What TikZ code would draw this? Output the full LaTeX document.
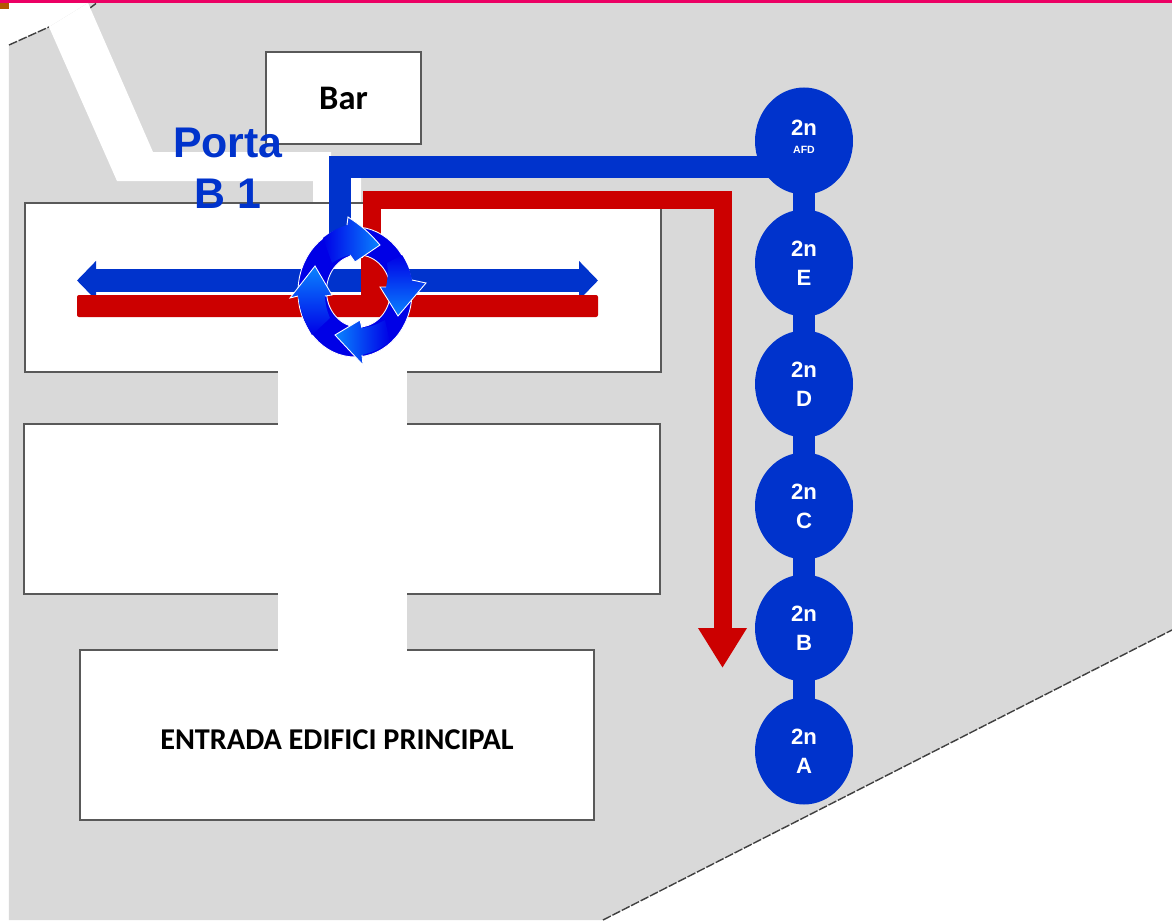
\documentclass[tikz,border=0pt]{standalone}
\usepackage{fontspec}
\usepackage{xcolor}
\usetikzlibrary{arrows.meta}
\usetikzlibrary{shapes.geometric}
\setmainfont{Liberation Sans}
\newfontfamily\roomfont{Carlito}
\definecolor{planblue}{HTML}{0033CC}
\definecolor{planred}{HTML}{CC0000}
\definecolor{plangray}{HTML}{D9D9D9}
\definecolor{planpink}{HTML}{EC0064}
\definecolor{ringblue}{HTML}{0000E6}
\definecolor{ringlight}{HTML}{0A84FF}
\tikzset{
	room/.style={draw=black!65, fill=white, line width=0.35pt, inner sep=0pt, outer sep=0pt, font=\roomfont\bfseries},
	stop/.style={ellipse, fill=planblue, text=white, minimum width=0.98cm, minimum height=1.07cm, inner sep=0pt, align=center, font=\bfseries\fontsize{6.3}{8.2}\selectfont},
	stoplink/.style={draw=planblue, line width=0.22cm, shorten >=0.42cm, shorten <=0.42cm},
	blueline/.style={draw=planblue, line width=0.22cm},
	redline/.style={draw=planred, line width=0.18cm},
	bluearrow/.style={draw=planblue, line width=0.235cm, -{Triangle[length=0.19cm, width=0.38cm]}},
	edgeline/.style={draw=black!75, line width=0.4pt, dash pattern=on 2.5pt off 0.5pt},
	ringhead/.style={draw=white, line width=0.25pt}
}

\begin{document}
\begin{tikzpicture}
	\useasboundingbox (0,0) rectangle (11.72,9.2);

	% ground and top band
	\fill[plangray] (0.09,0) -- (0.09,8.75) -- (0.49,8.93) -- (0.88,9.17) -- (11.72,9.17) -- (11.72,2.90) -- (6.03,0) -- cycle;
	\fill[planpink] (0,9.165) rectangle (11.72,9.2);
	\fill[orange!70!black] (0,9.11) rectangle (0.09,9.165);

	% outer edges
	\draw[edgeline] (0.09,8.75) -- (0.49,8.93);
	\draw[edgeline] (0.90,9.12) -- (0.96,9.165);
	\draw[edgeline] (6.03,0) -- (11.72,2.90);

	% white way in
	\fill[white] (0.49,8.93) -- (0.88,9.17) -- (1.53,7.68) -- (3.31,7.68) -- (3.31,7.42) -- (3.61,7.42) -- (3.61,7.10) -- (3.13,7.10) -- (3.13,7.39) -- (1.17,7.39) -- cycle;

	% rooms
	\node[room, minimum width=1.55cm, minimum height=0.92cm, font=\roomfont\bfseries\fontsize{9.8}{12}\selectfont] (bar) at (3.435,8.22) {Bar};
	\node[room, minimum width=6.36cm, minimum height=1.69cm] (hall) at (3.43,6.325) {};
	\node[room, minimum width=6.36cm, minimum height=1.70cm] (middle) at (3.42,4.11) {};
	\node[room, minimum width=5.14cm, minimum height=1.70cm, font=\roomfont\bfseries\fontsize{8.6}{11}\selectfont] (entrada) at (3.37,1.85) {\raisebox{-0.147cm}[0pt][0pt]{ENTRADA EDIFICI PRINCIPAL}};

	% passages between the rooms
	\fill[white] (2.78,5.50) rectangle (4.07,4.94);
	\fill[white] (2.78,3.28) rectangle (4.07,2.68);

	% stops
	\node[stop] (afd) at (8.04,7.79) {2n\\[-0.03cm]{\fontsize{3}{3}\selectfont\raisebox{0.08cm}{AFD}}};
	\node[stop] (e) at (8.04,6.57) {2n\\E};
	\node[stop] (d) at (8.04,5.36) {2n\\D};
	\node[stop] (c) at (8.04,4.14) {2n\\C};
	\node[stop] (b) at (8.04,2.92) {2n\\B};
	\node[stop] (a) at (8.04,1.69) {2n\\A};
	\draw[stoplink] (afd.center) -- (e.center);
	\draw[stoplink] (e.center) -- (d.center);
	\draw[stoplink] (d.center) -- (c.center);
	\draw[stoplink] (c.center) -- (b.center);
	\draw[stoplink] (b.center) -- (a.center);

	% blue way
	\coordinate (bluestart) at (3.395,6.70);
	\coordinate (bluecorner) at (3.395,7.53);
	\coordinate (blueend) at (7.75,7.53);
	\draw[blueline] (bluestart) -- (bluecorner) -- (blueend);
	\coordinate (blueleft) at (3.61,6.395);
	\coordinate (blueleftend) at (0.77,6.395);
	\coordinate (blueright) at (3.95,6.395);
	\coordinate (bluerightend) at (5.98,6.395);
	\draw[bluearrow] (blueleft) -- (blueleftend);
	\draw[bluearrow] (blueright) -- (bluerightend);

	% red way
	\fill[planred, rounded corners=0.02cm] (0.77,6.03) rectangle (5.98,6.25);
	\fill[planred] (3.61,6.03) rectangle (3.92,6.62);
	\coordinate (redstart) at (3.715,6.30);
	\coordinate (redcorner) at (3.715,7.20);
	\coordinate (redturn) at (7.225,7.20);
	\coordinate (redend) at (7.225,2.52);
	\draw[redline, -{Triangle[length=0.40cm, width=0.46cm]}] (redstart) -- (redcorner) -- (redturn) -- (redend);

	% roundabout
	\fill[ringblue, even odd rule, draw=white, line width=0.25pt] (3.55,6.28) ellipse [x radius=0.57, y radius=0.65] (3.585,6.29) ellipse [x radius=0.32, y radius=0.36];
	\shade[left color=ringblue, right color=ringlight] (3.23,6.82) to[bend left=10] (3.47,6.95) -- (3.48,7.03) to[bend left=8] (3.80,6.75) -- (3.55,6.58) -- (3.50,6.65) to[bend right=10] (3.32,6.57) -- cycle;
	\draw[ringhead] (3.47,6.95) -- (3.48,7.03) to[bend left=8] (3.80,6.75) -- (3.55,6.58) -- (3.50,6.65);
	\shade[top color=ringblue, bottom color=ringlight] (4.02,6.65) to[bend left=10] (4.12,6.40) -- (4.26,6.37) -- (3.98,6.04) -- (3.80,6.33) -- (3.86,6.33) to[bend right=10] (3.87,6.57) -- cycle;
	\draw[ringhead] (4.12,6.40) -- (4.26,6.37) -- (3.98,6.04) -- (3.80,6.33) -- (3.86,6.33);
	\shade[left color=ringlight, right color=ringblue] (3.90,5.78) to[bend left=10] (3.62,5.65) -- (3.63,5.55) -- (3.35,5.85) -- (3.60,6.00) -- (3.62,5.92) to[bend right=10] (3.85,6.00) -- cycle;
	\draw[ringhead] (3.62,5.65) -- (3.63,5.55) -- (3.35,5.85) -- (3.60,6.00) -- (3.62,5.92);
	\shade[top color=ringlight, bottom color=ringblue] (3.12,5.85) to[bend left=10] (2.98,6.24) -- (2.90,6.22) -- (3.15,6.54) -- (3.32,6.25) -- (3.25,6.24) to[bend right=10] (3.30,6.02) -- cycle;
	\draw[ringhead] (2.98,6.24) -- (2.90,6.22) -- (3.15,6.54) -- (3.32,6.25) -- (3.25,6.24);

	% door label
	\node[align=center, text=planblue, inner sep=0pt, font=\bfseries\fontsize{12.2}{14.4}\selectfont] (porta) at (2.28,7.52) {Porta\\B 1};
\end{tikzpicture}
\end{document}
